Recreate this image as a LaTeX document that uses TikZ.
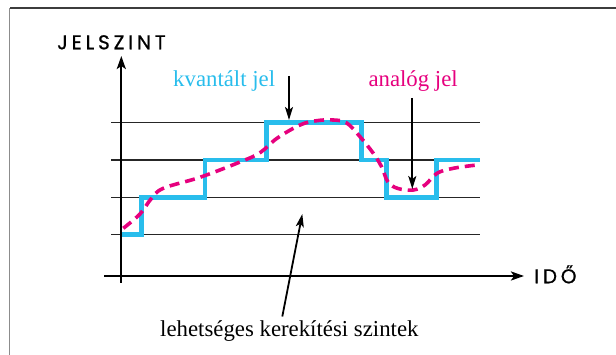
\documentclass[tikz,border=0pt]{standalone}
\usepackage{fontspec}
\setmainfont{Liberation Serif}
\newfontfamily\axisfont[LetterSpace=19,FakeBold=0.8]{Poppins}
\usetikzlibrary{arrows.meta,positioning}
\definecolor{qblue}{RGB}{41,189,236}
\definecolor{amag}{RGB}{230,0,126}
\definecolor{frm}{RGB}{60,60,60}

\begin{document}
\begin{tikzpicture}[x=1pt,y=-1pt,
  axis/.style={line width=2.2pt,-{Stealth[length=13pt,width=9pt,inset=3pt]}},
  pointer/.style={line width=1.8pt,-{Stealth[length=13pt,width=8pt,inset=3pt]}},
  level/.style={line width=1.3pt,black!85},
  axlabel/.style={font=\axisfont\fontsize{20}{21}\selectfont,inner sep=0pt,anchor=base west},
  tag/.style={font=\fontsize{22.8}{24}\selectfont,inner sep=0pt,anchor=base west}
]
\useasboundingbox (0,0) rectangle (616,355);
% frame
\draw[line width=1.6pt,frm] (616,8.3) -- (9.5,8.3);
\draw[line width=1.8pt,black!45] (9.5,8.3) -- (9.5,355);
% rounding levels
\foreach \lv in {122.3,160,197.3,234.7}
  \draw[level] (111,\lv) -- (480,\lv);
% axes
\coordinate (yfoot) at (121.3,283);
\coordinate (ytop) at (121.3,56);
\coordinate (xfoot) at (104,276);
\coordinate (xtop) at (524,276);
\draw[axis] (yfoot) -- (ytop);
\draw[axis] (xfoot) -- (xtop);
\node[axlabel] (ylab) at (57,49.3) {JELSZINT};
\node[axlabel] (xlab) at (534,283.3) {IDŐ};
% quantized signal
\draw[qblue,line width=4.5pt,line join=miter]
  (122,234.7) -- (141.7,234.7) -- (141.7,197.3) -- (205,197.3) -- (205,160)
  -- (266.7,160) -- (266.7,122.3) -- (361.7,122.3) -- (361.7,160) -- (386.7,160)
  -- (386.7,197.3) -- (436.7,197.3) -- (436.7,160) -- (479.5,160);
% analog signal
\draw[amag,line width=3.6pt,dash pattern=on 10pt off 6pt] plot[smooth,tension=0.6] coordinates {
  (123.3,228.3) (140,214) (151,199) (163.3,188.3) (200,177.3) (240,162)
  (260,152.7) (277,138.3) (300,125) (316.7,120.7) (333.3,120) (346.7,123)
  (360,136.7) (373.3,153.3) (381.7,167) (388,182) (398,188.5) (413.3,190)
  (425,185) (437,173.3) (453.3,168.3) (476.7,165)};
% labels
\node[tag,text=qblue] (qlab) at (173,86.7) {kvantált jel};
\node[tag,text=amag] (alab) at (368.3,86.7) {analóg jel};
\node[tag] (llab) at (160,336.7) {lehetséges kerekítési szintek};
\coordinate (qtail) at (289,76);
\coordinate (qhead) at (289,120);
\coordinate (atail) at (412.3,98);
\coordinate (ahead) at (412.3,189);
\coordinate (ltail) at (282.3,316.5);
\coordinate (lhead) at (302.3,214);
\draw[pointer] (qtail) -- (qhead);
\draw[pointer] (atail) -- (ahead);
\draw[pointer] (ltail) -- (lhead);
\end{tikzpicture}
\end{document}
